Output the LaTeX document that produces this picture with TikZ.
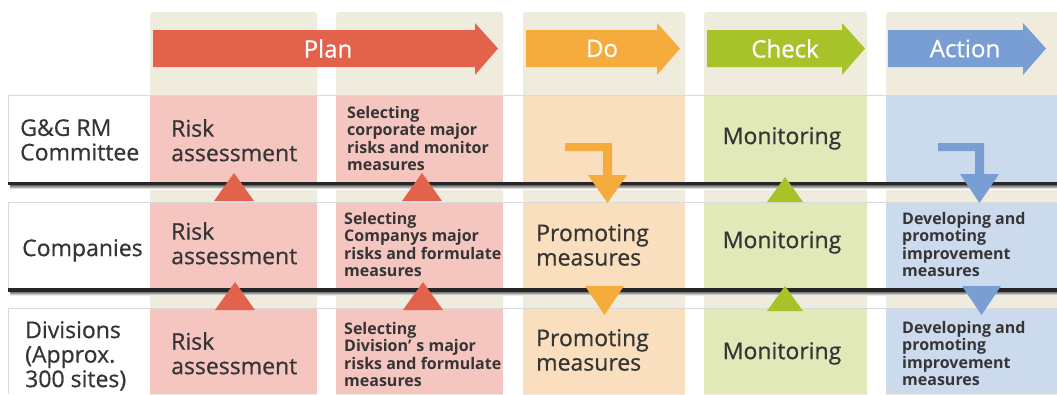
\documentclass[tikz,border=0pt]{standalone}
\usepackage{fontspec}
\setmainfont{Open Sans}
\newfontfamily\heavyfont[FakeBold=0.6]{Open Sans}
\definecolor{planc}{HTML}{E3624C}
\definecolor{planl}{HTML}{F5C6C0}
\definecolor{doc}{HTML}{F5AC3C}
\definecolor{dol}{HTML}{FADFBF}
\definecolor{checkc}{HTML}{A8C22A}
\definecolor{checkl}{HTML}{E0E9B7}
\definecolor{actc}{HTML}{789ED3}
\definecolor{actl}{HTML}{CCDAEE}
\definecolor{beige}{HTML}{F0ECDD}
\definecolor{ink}{HTML}{353535}
\definecolor{rulegray}{HTML}{DADADA}
\definecolor{barink}{HTML}{262626}
\begin{document}
\begin{tikzpicture}[x=1pt,y=-1pt,
  big/.style={font=\heavyfont\fontsize{23}{24.5}\selectfont, text=ink, inner sep=0pt, align=left},
  small/.style={font=\bfseries\fontsize{16}{17.5}\selectfont, text=ink, inner sep=0pt, align=left},
  phase/.style={font=\heavyfont\fontsize{24}{28}\selectfont, text=white, inner sep=0pt}]
\useasboundingbox (0,0) rectangle (1057,394);
\fill[white] (0,0) rectangle (1057,394);

% column backgrounds
\foreach \a/\b in {150/317,336/503,523/685,704/867,886/1075}
  \fill[beige, rounded corners=3pt] (\a,12) rectangle (\b,400);

% row bands with tinted column cells
\foreach \t/\bt in {95/183,202/290,308/394} {
  \fill[white] (8,\t) rectangle (1070,\bt);
  \fill[planl] (150,\t) rectangle (317,\bt);
  \fill[planl] (336,\t) rectangle (503,\bt);
  \fill[dol] (523,\t) rectangle (685,\bt);
  \fill[checkl] (704,\t) rectangle (867,\bt);
  \fill[actl] (886,\t) rectangle (1075,\bt);
  \draw[rulegray, line width=0.8pt] (1070,\t) -- (8,\t) -- (8,\bt);
}

% heavy separators between levels
\foreach \y in {181.5,288} {
  \shade[top color=black!60, bottom color=white] (10,\y+3.5) rectangle (1070,\y+7.5);
  \fill[barink] (8,\y) rectangle (1070,\y+3.5);
}

% phase arrows
\fill[planc] (153,30) -- (475,30) -- (475,23) -- (498,48.5) -- (475,75) -- (475,67) -- (153,67) -- cycle;
\fill[doc] (526,30) -- (657,30) -- (657,23) -- (680,48.5) -- (657,75) -- (657,67) -- (526,67) -- cycle;
\fill[checkc] (707,30) -- (842,30) -- (842,23) -- (865,48.5) -- (842,75) -- (842,67) -- (707,67) -- cycle;
\fill[actc] (888,30) -- (1023,30) -- (1023,23) -- (1046,48.5) -- (1023,75) -- (1023,67) -- (888,67) -- cycle;
\node[phase] (plan) at (328,48.5) {Plan};
\node[phase] (do) at (602,48.5) {Do};
\node[phase] (check) at (785,48.5) {Check};
\node[phase] (action) at (965,48.5) {Action};

% upward triangles (Plan, Check)
\foreach \cx/\ap/\bs in {234/173/201, 422/173/201, 235/282/310, 423/282/310}
  \fill[planc] (\cx-20,\bs) -- (\cx,\ap) -- (\cx+20,\bs) -- cycle;
\foreach \cx/\ap/\bs in {785/177/202, 785/286/311}
  \fill[checkc] (\cx-18,\bs) -- (\cx,\ap) -- (\cx+18,\bs) -- cycle;

% bent arrows from the committee level
\fill[doc] (565,143) -- (612,143) -- (612,175) -- (627,175) -- (607.5,203) -- (588,175) -- (603,175) -- (603,151) -- (565,151) -- cycle;
\fill[actc] (938,143) -- (984,143) -- (984,174) -- (999,174) -- (979.5,203) -- (960,174) -- (975,174) -- (975,151) -- (938,151) -- cycle;

% downward triangles (Do, Action)
\fill[doc] (585,286) -- (624,286) -- (604.5,315) -- cycle;
\fill[actc] (962,286) -- (1001,286) -- (981.5,315) -- cycle;

% level labels
\node[big, anchor=north west] (l1) at (20,119) {G\&G RM\\Committee};
\node[big, anchor=north west] (l2) at (22,239) {Companies};
\node[big, anchor=north west] (l3) at (25,321) {Divisions\\(Approx.\\300 sites)};

% committee level
\node[big, anchor=north west] (r1a) at (171,119) {Risk\\assessment};
\node[small, anchor=north west] (r1b) at (347,106) {Selecting\\corporate major\\risks and monitor\\measures};
\node[big, anchor=north] (r1d) at (782,127) {Monitoring};

% company level
\node[big, anchor=north west] (r2a) at (171,222) {Risk\\assessment};
\node[small, anchor=north west] (r2b) at (344,212) {Selecting\\Companys major\\risks and formulate\\measures};
\node[big, anchor=north west] (r2c) at (536,224) {Promoting\\measures};
\node[big, anchor=north] (r2d) at (782,231) {Monitoring};
\node[small, anchor=north west] (r2e) at (902,212) {Developing and\\promoting\\improvement\\measures};

% division level
\node[big, anchor=north west] (r3a) at (171,332) {Risk\\assessment};
\node[small, anchor=north west] (r3b) at (344,322) {Selecting\\Division’\hspace{5pt}s major\\risks and formulate\\measures};
\node[big, anchor=north west] (r3c) at (536,329) {Promoting\\measures};
\node[big, anchor=north] (r3d) at (782,342) {Monitoring};
\node[small, anchor=north west] (r3e) at (902,321) {Developing and\\promoting\\improvement\\measures};
\end{tikzpicture}
\end{document}
